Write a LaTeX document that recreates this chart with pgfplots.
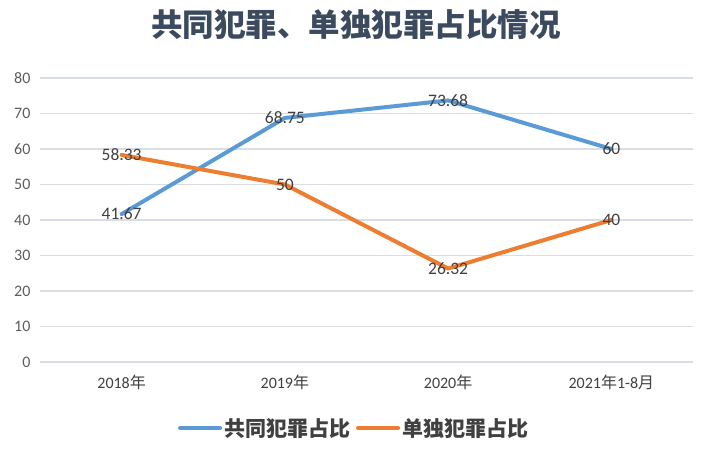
\documentclass[border=0pt]{standalone}
\usepackage{fontspec}
\setmainfont{Carlito}
\newfontfamily\cjk{Noto Sans CJK SC}
\usepackage{pgfplots}
\pgfplotsset{compat=1.18}
\definecolor{cblue}{HTML}{5B9BD5}
\definecolor{corange}{HTML}{ED7D31}
\definecolor{gridc}{HTML}{D9DDE4}
\definecolor{txt}{HTML}{404040}
\definecolor{ttl}{HTML}{3B4A5E}
\begin{document}
\begin{tikzpicture}[x=1pt,y=1pt]
\path[use as bounding box] (0,0) rectangle (712,452);
\begin{axis}[
  at={(40pt,90pt)}, anchor=south west,
  scale only axis, width=653pt, height=284pt,
  xmin=-0.5, xmax=3.5, ymin=0, ymax=80,
  xtick={0,1,2,3},
  xticklabels={2018{\cjk 年}, 2019{\cjk 年}, 2020{\cjk 年}, 2021{\cjk 年}1-8{\cjk 月}},
  ytick={0,10,...,80},
  axis line style={draw=none},
  major tick length=0pt,
  xmajorgrids=false, ymajorgrids=true, grid style={draw=gridc, line width=1.5pt},
  /pgf/number format/assume math mode=true,
  tick label style={font=\fontsize{16}{18}\selectfont, text=txt},
  yticklabel style={xshift=-6pt, text=txt!85},
  xticklabel style={yshift=-9pt},
  title={\cjk\bfseries 共同犯罪、单独犯罪占比情况},
  title style={at={(0.484,1.169)}, anchor=center, font=\fontsize{31.5}{34}\selectfont, text=ttl},
  legend style={draw=none, at={(0.481,-0.232)}, anchor=center, legend columns=2,
    font=\cjk\bfseries\fontsize{21}{24}\selectfont, text=txt,
    /tikz/every even column/.append style={column sep=4pt}},
  legend image code/.code={\draw[#1, line width=4pt, line cap=round] (0pt,0pt) -- (40pt,0pt);},
  nodes near coords, point meta=y,
  nodes near coords align=center,
  every node near coord/.append style={anchor=center, font=\fontsize{17.5}{19}\selectfont, text=txt, /pgf/number format/assume math mode=true},
]
\addplot[cblue, line width=4pt, line join=round, line cap=round, mark=none] coordinates {(0,41.67) (1,68.75) (2,73.68) (3,60)};
\addlegendentry{共同犯罪占比}
\addplot[corange, line width=4pt, line join=round, line cap=round, mark=none] coordinates {(0,58.33) (1,50) (2,26.32) (3,40)};
\addlegendentry{单独犯罪占比}
\end{axis}
\end{tikzpicture}
\end{document}
